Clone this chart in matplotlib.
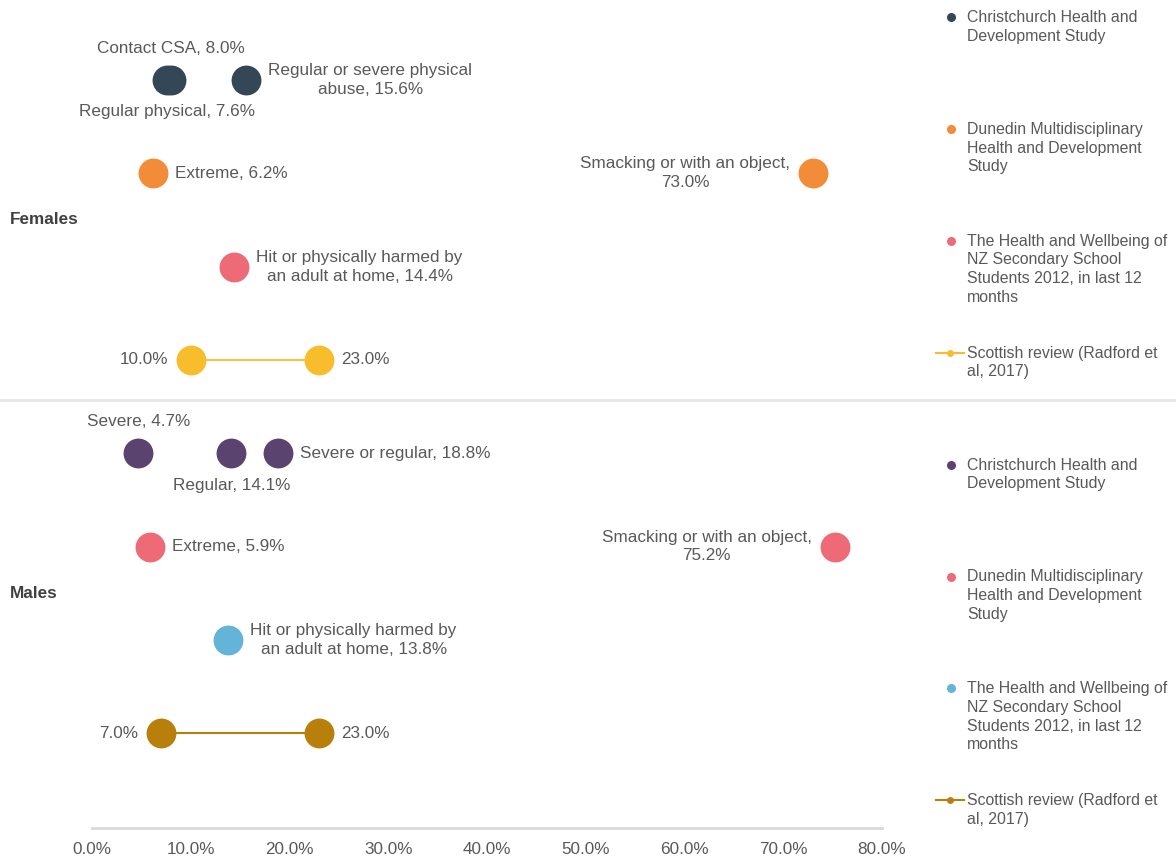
import matplotlib
matplotlib.use("Agg")
import matplotlib.pyplot as plt
from matplotlib.lines import Line2D

plt.rcParams['font.family'] = ['Liberation Sans', 'DejaVu Sans']

# ---------------- data ----------------
groups = ["Females", "Males"]
studies = [
    "Christchurch Health and\nDevelopment Study",
    "Dunedin Multidisciplinary\nHealth and Development\nStudy",
    "The Health and Wellbeing of\nNZ Secondary School\nStudents 2012, in last 12\nmonths",
    "Scottish review (Radford et\nal, 2017)",
]

# Females
f_chch_values = [8.0, 7.6, 15.6]
f_chch_labels = ["Contact CSA, 8.0%", "Regular physical, 7.6%",
                 "Regular or severe physical\nabuse, 15.6%"]
f_dun_values = [6.2, 73.0]
f_dun_labels = ["Extreme, 6.2%", "Smacking or with an object,\n73.0%"]
f_hw_values = [14.4]
f_hw_labels = ["Hit or physically harmed by\nan adult at home, 14.4%"]
f_scot_values = [10.0, 23.0]
f_scot_labels = ["10.0%", "23.0%"]

# Males
m_chch_values = [4.7, 14.1, 18.8]
m_chch_labels = ["Severe, 4.7%", "Regular, 14.1%", "Severe or regular, 18.8%"]
m_dun_values = [5.9, 75.2]
m_dun_labels = ["Extreme, 5.9%", "Smacking or with an object,\n75.2%"]
m_hw_values = [13.8]
m_hw_labels = ["Hit or physically harmed by\nan adult at home, 13.8%"]
m_scot_values = [7.0, 23.0]
m_scot_labels = ["7.0%", "23.0%"]

x_ticks = [0, 10, 20, 30, 40, 50, 60, 70, 80]
x_tick_labels = ["0.0%", "10.0%", "20.0%", "30.0%", "40.0%", "50.0%", "60.0%", "70.0%", "80.0%"]

# ---------------- styles ----------------
female_colors = ["#344756", "#F28C38", "#EE6A77", "#F7BD2D"]
male_colors = ["#5B4370", "#EE6A77", "#63B4D8", "#B8800A"]
TXT = "#595959"
FS = 12.3

rows = [
    (f_chch_values, f_chch_labels, ["above", "below", "right"], female_colors[0], False),
    (f_dun_values, f_dun_labels, ["right", "left"], female_colors[1], False),
    (f_hw_values, f_hw_labels, ["right"], female_colors[2], False),
    (f_scot_values, f_scot_labels, ["left", "right"], female_colors[3], True),
    (m_chch_values, m_chch_labels, ["above", "below", "right"], male_colors[0], False),
    (m_dun_values, m_dun_labels, ["right", "left"], male_colors[1], False),
    (m_hw_values, m_hw_labels, ["right"], male_colors[2], False),
    (m_scot_values, m_scot_labels, ["left", "right"], male_colors[3], True),
]

W, H = 1176, 860
fig = plt.figure(figsize=(W / 100, H / 100), dpi=100)
fig.patch.set_facecolor("white")

ax_left, ax_right, ax_top, ax_bottom = 92, 882, 0, 828
ax = fig.add_axes([ax_left / W, 1 - ax_bottom / H, (ax_right - ax_left) / W, (ax_bottom - ax_top) / H])
ax.set_xlim(0, 80)
row_px0, row_step = 80, 93.3
ax.set_ylim((ax_bottom - row_px0) / row_step, (ax_top - row_px0) / row_step)

MS = 21.5
offs = {"above": ((0, 23), "center", "center"),
        "below": ((0, -23), "center", "center"),
        "right": ((16, 0), "left", "center"),
        "left": ((-16.5, 0), "right", "center")}

for i, (vals, labs, places, col, connect) in enumerate(rows):
    ys = [i] * len(vals)
    if connect:
        ax.plot(vals, ys, color=col, lw=1.5, zorder=2,
                alpha=0.9 if i == 3 else 1.0)
    ax.plot(vals, ys, 'o', color=col, markersize=MS, markeredgewidth=0, zorder=3)
    for v, lab, p in zip(vals, labs, places):
        (dx, dy), ha, va = offs[p]
        ax.annotate(lab, (v, i), xytext=(dx, dy), textcoords="offset points",
                    ha=ha, va=va, multialignment="center", fontsize=FS, color=TXT,
                    linespacing=1.32)

# group labels
for g, yc in zip(groups, [1.5, 5.5]):
    ax.annotate(g, (0, yc), xycoords=("figure pixels", "data"),
                xytext=(10, yc), textcoords=("figure pixels", "data"),
                ha="left", va="center", fontsize=FS, fontweight="bold", color="#404040")

# axes styling
for s in ["top", "left", "right"]:
    ax.spines[s].set_visible(False)
ax.spines["bottom"].set_color("#d9d9d9")
ax.spines["bottom"].set_linewidth(2)
ax.set_yticks([])
ax.set_xticks(x_ticks)
ax.set_xticklabels(x_tick_labels, fontsize=FS, color=TXT)
ax.tick_params(axis="x", length=0, pad=10)

# separator line between groups
fig.add_artist(Line2D([0, 1], [1 - 400 / H, 1 - 400 / H], color="#e6e6e6", lw=2,
                      transform=fig.transFigure))

# legend (manual)
leg_y0, leg_step = 17, 111.9
leg_colors = female_colors + male_colors
for k in range(8):
    ypx = leg_y0 + k * leg_step
    yf = 1 - ypx / H
    col = leg_colors[k]
    st = studies[k % 4]
    if k % 4 == 3:
        fig.add_artist(Line2D([936 / W, 964 / W], [yf, yf], color=col, lw=1.5,
                              transform=fig.transFigure))
        fig.add_artist(Line2D([950 / W], [yf], marker='o', color=col, markersize=5,
                              markeredgewidth=0, transform=fig.transFigure))
    else:
        fig.add_artist(Line2D([951 / W], [yf], marker='o', color=col, markersize=6.5,
                              markeredgewidth=0, transform=fig.transFigure))
    fig.text(967 / W, 1 - (ypx - 7) / H, st, ha="left", va="top",
             fontsize=11.4, color=TXT, linespacing=1.3)

fig.savefig("out.png", dpi=100, facecolor="white")
